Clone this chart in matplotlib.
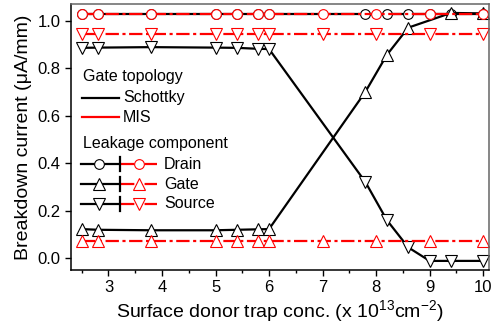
import matplotlib

matplotlib.use("Agg")
import matplotlib.pyplot as plt
from matplotlib.ticker import MultipleLocator, FormatStrFormatter

plt.rcParams["font.family"] = ["Liberation Sans", "DejaVu Sans"]
plt.rcParams["mathtext.fontset"] = "custom"
plt.rcParams["mathtext.rm"] = "Liberation Sans"

# MIS gate (red, dash-dot)
x_mis = [2.5, 2.8, 3.8, 5.0, 5.4, 5.8, 6.0, 7.0, 8.0, 9.0, 10.0]
mis_drain = [1.027, 1.027, 1.027, 1.027, 1.027, 1.027, 1.027, 1.027, 1.027, 1.027, 1.027]
mis_gate = [0.073, 0.073, 0.073, 0.073, 0.073, 0.073, 0.073, 0.073, 0.073, 0.073, 0.073]
mis_source = [0.942, 0.942, 0.942, 0.942, 0.942, 0.942, 0.942, 0.942, 0.942, 0.942, 0.942]

# Schottky gate (black, solid)
x_sch = [2.5, 2.8, 3.8, 5.0, 5.4, 5.8, 6.0, 7.8, 8.2, 8.6, 9.0, 9.4, 10.0]
sch_drain = [1.027, 1.027, 1.027, 1.027, 1.027, 1.027, 1.027, 1.027, 1.027, 1.027, 1.027, 1.027, 1.027]
sch_source = [0.885, 0.886, 0.888, 0.886, 0.885, 0.881, 0.880, 0.32, 0.16, 0.045, -0.012, -0.012, -0.012]
x_sch_gate = [2.5, 2.8, 3.8, 5.0, 5.4, 5.8, 6.0, 7.8, 8.2, 8.6, 9.4, 10.0]
sch_gate = [0.122, 0.119, 0.117, 0.117, 0.119, 0.121, 0.122, 0.70, 0.855, 0.97, 1.032, 1.03]

components = ["Drain", "Gate", "Source"]
markers = ["o", "^", "v"]

fig = plt.figure(figsize=(4.93, 3.26), dpi=100)
ax = fig.add_axes([0.144, 0.172, 0.848, 0.816])

lw = 1.6
dash_dot = (0, (6, 1.6, 1.4, 1.6))
msize = {"o": 7, "^": 8, "v": 8}

sch_series = [(x_sch, sch_drain), (x_sch_gate, sch_gate), (x_sch, sch_source)]
for (xs, values), mk in zip(sch_series, markers):
    ax.plot(xs, values, color="black", lw=lw, marker=mk, ms=msize[mk],
            mfc="white", mec="black", mew=0.8)
for values, mk in zip([mis_drain, mis_gate, mis_source], markers):
    ax.plot(x_mis, values, color="red", lw=lw, ls=dash_dot, marker=mk, ms=msize[mk],
            mfc="white", mec="red", mew=0.8)

ax.set_xlim(2.3, 10.11)
ax.set_ylim(-0.05, 1.07)
ax.xaxis.set_major_locator(MultipleLocator(1))
ax.xaxis.set_minor_locator(MultipleLocator(0.5))
ax.yaxis.set_major_locator(MultipleLocator(0.2))
ax.yaxis.set_major_formatter(FormatStrFormatter("%.1f"))
ax.tick_params(axis="both", which="major", direction="out", length=4, width=1, labelsize=12)
ax.tick_params(axis="x", which="minor", direction="out", length=2.5, width=1)
ax.tick_params(top=False, right=False)
for side in ["left", "bottom"]:
    ax.spines[side].set_linewidth(1.1)
for side in ["top", "right"]:
    ax.spines[side].set_color("#666666")
    ax.spines[side].set_linewidth(1.1)

ax.set_xlabel(r"Surface donor trap conc. (x 10$^{13}$cm$^{-2}$)", fontsize=14, labelpad=2)
ax.set_ylabel("Breakdown current (\u03bcA/mm)", fontsize=14, labelpad=4)

# hand-built legend in axes coordinates
tr = ax.transAxes
fs = 11.5
ax.text(0.028, 0.727, "Gate topology", transform=tr, fontsize=fs, va="center")
ax.plot([0.026, 0.115], [0.648, 0.648], color="black", lw=lw, transform=tr)
ax.text(0.125, 0.648, "Schottky", transform=tr, fontsize=fs, va="center")
ax.plot([0.026, 0.115], [0.574, 0.574], color="red", lw=lw, transform=tr)
ax.text(0.125, 0.574, "MIS", transform=tr, fontsize=fs, va="center")
ax.text(0.028, 0.476, "Leakage component", transform=tr, fontsize=fs, va="center")

row_y = [0.398, 0.323, 0.248]
for name, mk, y in zip(components, markers, row_y):
    ax.plot([0.023, 0.116], [y, y], color="black", lw=lw, transform=tr)
    ax.plot([0.068], [y], marker=mk, ms=msize[mk], mfc="white", mec="black",
            mew=0.8, transform=tr)
    ax.plot([0.119, 0.205], [y, y], color="red", lw=lw, ls=dash_dot, transform=tr)
    ax.plot([0.162], [y], marker=mk, ms=msize[mk], mfc="white", mec="red",
            mew=0.8, transform=tr)
    ax.plot([0.117, 0.117], [y - 0.025, y + 0.025], color="black", lw=1.6, transform=tr)
    ax.text(0.222, y, name, transform=tr, fontsize=fs, va="center")

fig.savefig("out.png", dpi=100)
